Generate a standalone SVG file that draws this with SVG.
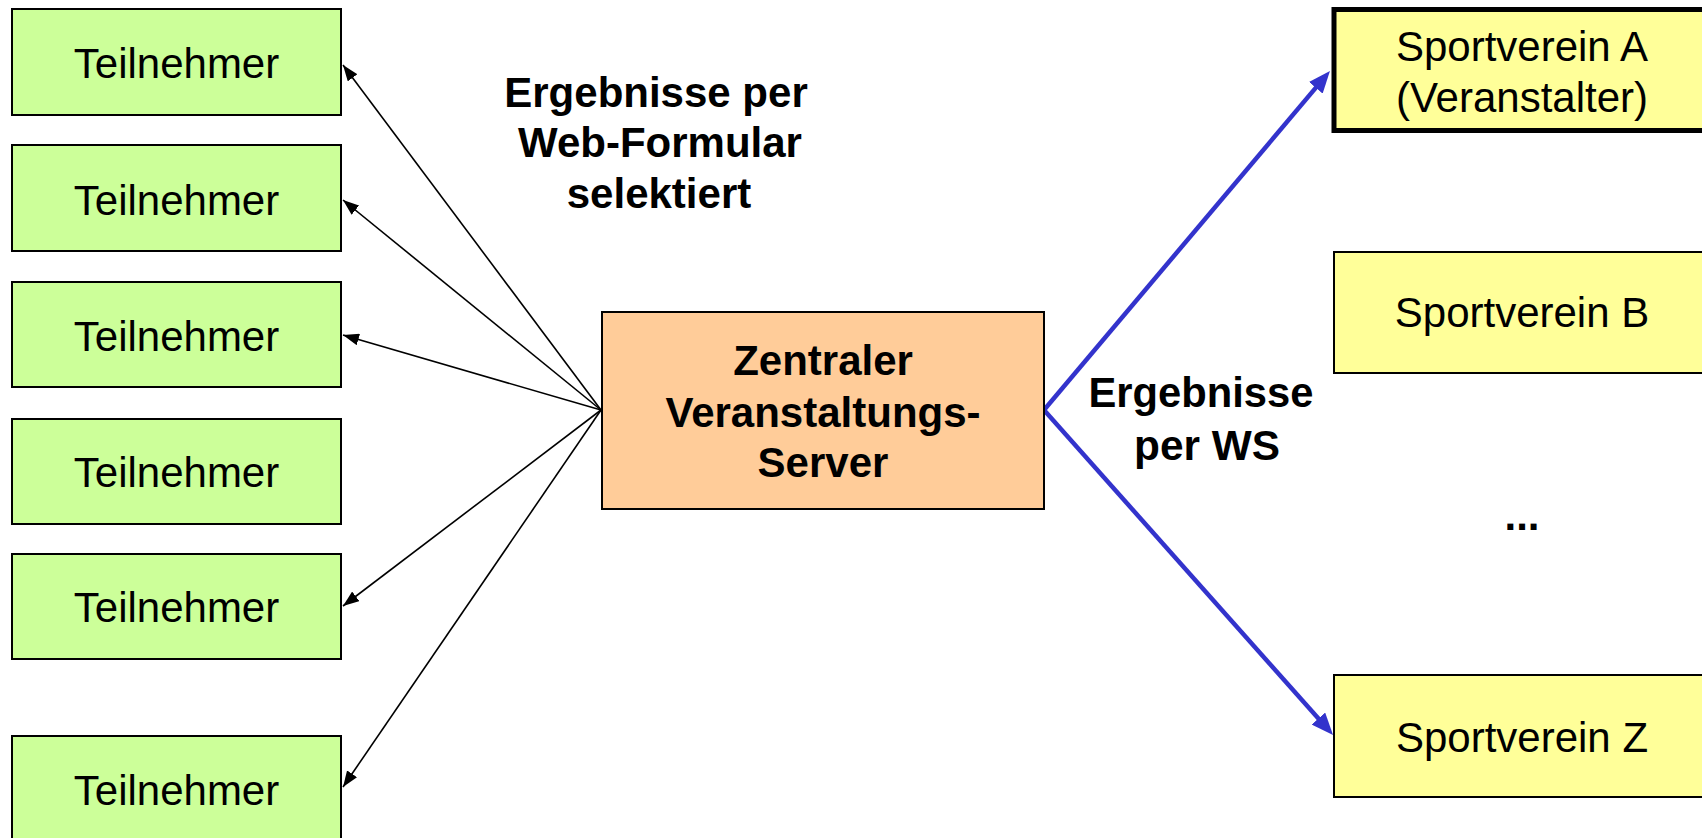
<svg xmlns="http://www.w3.org/2000/svg" width="1702" height="838" viewBox="0 0 1702 838">
<style>
.t{fill:#ccff99;stroke:#000;stroke-width:2}
.s{fill:#ffff99;stroke:#000;stroke-width:2}
.thick{stroke-width:5}
.srv{fill:#ffcc99;stroke:#000;stroke-width:2}
.txt{font-family:"Liberation Sans",Arial,sans-serif;font-size:42px;fill:#000;text-anchor:middle}
.b{font-weight:bold}
.k{stroke:#000;stroke-width:1.6;fill:none}
.bl{stroke:#3333cc;stroke-width:4.5;fill:none}
</style>
<defs>
<marker id="ak" markerUnits="userSpaceOnUse" markerWidth="16" markerHeight="12" refX="16" refY="6" orient="auto" viewBox="0 0 16 12"><path d="M0,0 L16,6 L0,12 z" fill="#000"/></marker>
<marker id="ab" markerUnits="userSpaceOnUse" markerWidth="22" markerHeight="18" refX="12" refY="9" orient="auto" viewBox="0 0 22 18"><path d="M0,0 L22,9 L0,18 z" fill="#3333cc"/></marker>
</defs>
<rect width="1702" height="838" fill="#fff"/>
<g id="connectors">
<line class="k" x1="601" y1="410" x2="343" y2="65" marker-end="url(#ak)"/>
<line class="k" x1="601" y1="410" x2="343" y2="200" marker-end="url(#ak)"/>
<line class="k" x1="601" y1="410" x2="343" y2="335" marker-end="url(#ak)"/>
<line class="k" x1="601" y1="410" x2="343" y2="606" marker-end="url(#ak)"/>
<line class="k" x1="601" y1="410" x2="343" y2="787" marker-end="url(#ak)"/>
<line class="bl" x1="1044" y1="410" x2="1323.5" y2="78.6" marker-end="url(#ab)"/>
<line class="bl" x1="1044" y1="410" x2="1326.4" y2="727.5" marker-end="url(#ab)"/>
</g>
<g id="t1"><rect class="t" x="12" y="9" width="329" height="106"/><text class="txt" x="176.5" y="78">Teilnehmer</text></g>
<g id="t2"><rect class="t" x="12" y="145" width="329" height="106"/><text class="txt" x="176.5" y="215">Teilnehmer</text></g>
<g id="t3"><rect class="t" x="12" y="282" width="329" height="105"/><text class="txt" x="176.5" y="351">Teilnehmer</text></g>
<g id="t4"><rect class="t" x="12" y="419" width="329" height="105"/><text class="txt" x="176.5" y="487">Teilnehmer</text></g>
<g id="t5"><rect class="t" x="12" y="554" width="329" height="105"/><text class="txt" x="176.5" y="622">Teilnehmer</text></g>
<g id="t6"><rect class="t" x="12" y="736" width="329" height="120"/><text class="txt" x="176.5" y="805">Teilnehmer</text></g>
<g id="server"><rect class="srv" x="602" y="312" width="442" height="197"/>
<text class="txt b" x="823" y="375">Zentraler</text>
<text class="txt b" x="823" y="427">Veranstaltungs-</text>
<text class="txt b" x="823" y="477">Server</text></g>
<g id="label-web">
<text class="txt b" x="656" y="107">Ergebnisse per</text>
<text class="txt b" x="660" y="157">Web-Formular</text>
<text class="txt b" x="659" y="208">selektiert</text></g>
<g id="label-ws">
<text class="txt b" x="1201" y="407" font-size="40" textLength="225" lengthAdjust="spacingAndGlyphs">Ergebnisse</text>
<text class="txt b" x="1207" y="460" font-size="40" textLength="146" lengthAdjust="spacingAndGlyphs">per WS</text></g>
<g id="sA"><rect class="s thick" x="1334" y="9.5" width="380" height="121"/>
<text class="txt" x="1522" y="61">Sportverein A</text>
<text class="txt" x="1522" y="112">(Veranstalter)</text></g>
<g id="sB"><rect class="s" x="1334" y="252" width="380" height="121"/><text class="txt" x="1522" y="327">Sportverein B</text></g>
<g id="dots"><text class="txt b" x="1522" y="530">...</text></g>
<g id="sZ"><rect class="s" x="1334" y="675" width="380" height="122"/><text class="txt" x="1522" y="752">Sportverein Z</text></g>
</svg>
